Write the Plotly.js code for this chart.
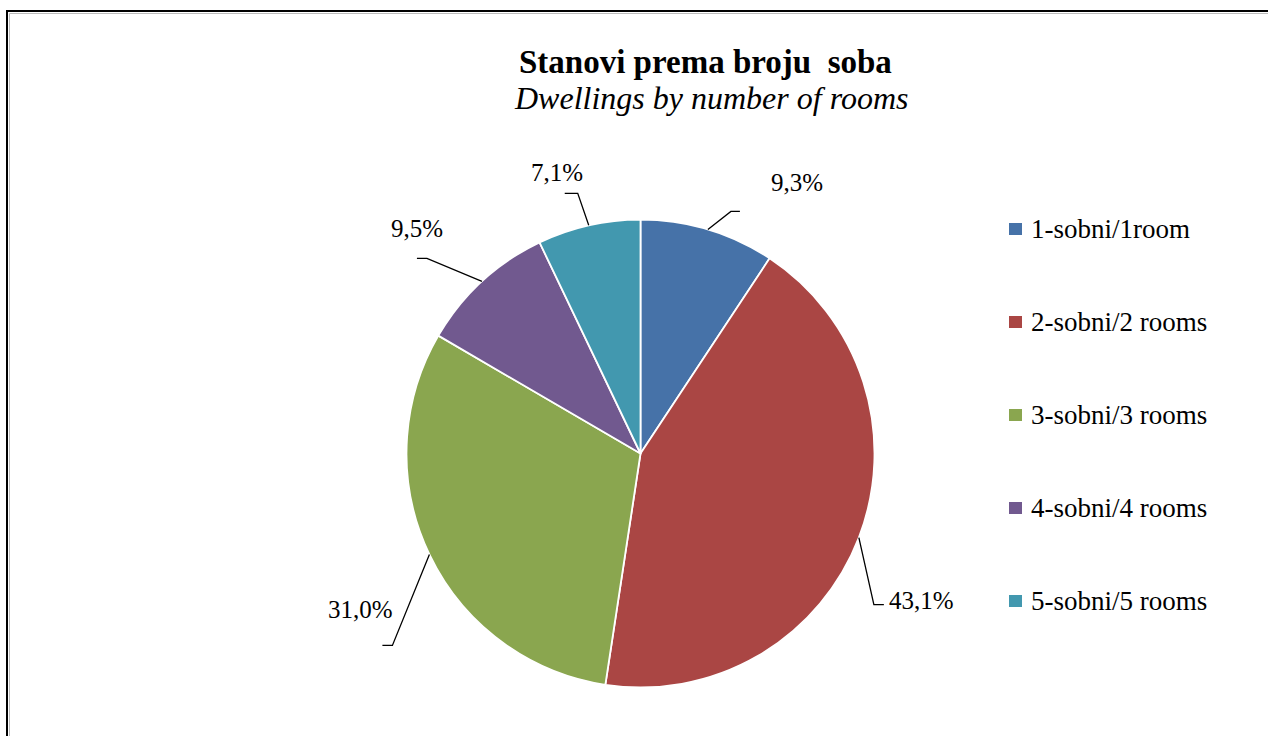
<!DOCTYPE html>
<html>
<head>
<meta charset="utf-8">
<script src="https://cdn.plot.ly/plotly-3.0.1.min.js"></script>
<style>html,body{margin:0;padding:0;background:#fff;}#chart{width:1268px;height:736px;}</style>
</head>
<body>
<div id="chart"></div>
<script>
// ---- data ----
const categories = ['1-sobni/1room', '2-sobni/2 rooms', '3-sobni/3 rooms', '4-sobni/4 rooms', '5-sobni/5 rooms'];
const shares = [9.3, 43.1, 31.0, 9.5, 7.1];
const colors = ['#4672A8', '#AA4644', '#8AA64F', '#71598F', '#4298AF'];
const titleMain = 'Stanovi prema broju&nbsp; soba';
const titleSub = 'Dwellings by number of rooms';

// ---- layout / styling (pixel geometry) ----
const W = 1268, H = 736;
const CX = 640.5, CY = 453.5, R = 234;
const FONT = 'Liberation Serif, Cambria, serif';
// leader line geometry relative to slice edge point: elbow offset, horizontal run, text offset from end
const leader = [
  {elbow: [23, -18], run: 9,   text: [57, -29]},
  {elbow: [15, 67],  run: 10,  text: [38, -4]},
  {elbow: [-37, 91], run: -10, text: [-22, -36]},
  {elbow: [-55, -23], run: -10, text: [0, -30]},
  {elbow: [-11, -32], run: -13, text: [-8, -21]}
];
const legendX = 1009, legendY0 = 229, legendStep = 93, boxW = 13, boxH = 12;

const px = x => x / W;
const py = y => 1 - y / H;

const shapes = [];
const annotations = [];

// frame
shapes.push({type: 'line', xref: 'paper', yref: 'paper', x0: px(7), x1: px(1268), y0: py(11), y1: py(11), line: {color: '#000', width: 2}});
shapes.push({type: 'line', xref: 'paper', yref: 'paper', x0: px(7), x1: px(7), y0: py(10), y1: py(736), line: {color: '#000', width: 2}});
shapes.push({type: 'line', xref: 'paper', yref: 'paper', x0: px(9.5), x1: px(1268), y0: py(13.5), y1: py(13.5), line: {color: '#bbb', width: 1}});
shapes.push({type: 'line', xref: 'paper', yref: 'paper', x0: px(9.5), x1: px(9.5), y0: py(13.5), y1: py(736), line: {color: '#bbb', width: 1}});

// titles
annotations.push({xref: 'paper', yref: 'paper', x: px(705), y: py(62), xanchor: 'center', yanchor: 'middle', showarrow: false,
  text: '<b>' + titleMain + '</b>', font: {family: FONT, size: 33, color: '#000'}});
annotations.push({xref: 'paper', yref: 'paper', x: px(711), y: py(98), xanchor: 'center', yanchor: 'middle', showarrow: false,
  text: '<i>' + titleSub + '</i>', font: {family: FONT, size: 32, color: '#000'}});

// data labels with leader lines, computed from slice mid-angles
const total = shares.reduce((a, b) => a + b, 0);
let cum = 0;
shares.forEach((v, i) => {
  const mid = (cum + v / 2) / total * 2 * Math.PI;
  cum += v;
  const sx = CX + R * Math.sin(mid), sy = CY - R * Math.cos(mid);
  const L = leader[i];
  const ex = sx + L.elbow[0], ey = sy + L.elbow[1];
  const fx = ex + L.run, fy = ey;
  shapes.push({type: 'path', xref: 'paper', yref: 'paper',
    path: `M ${px(sx)} ${py(sy)} L ${px(ex)} ${py(ey)} L ${px(fx)} ${py(fy)}`,
    line: {color: '#000', width: 1.3}});
  annotations.push({xref: 'paper', yref: 'paper', x: px(fx + L.text[0]), y: py(fy + L.text[1]),
    xanchor: 'center', yanchor: 'middle', showarrow: false,
    text: v.toFixed(1).replace('.', ',') + '%', font: {family: FONT, size: 25, color: '#000'}});
});

// legend
categories.forEach((c, i) => {
  const yc = legendY0 + i * legendStep;
  shapes.push({type: 'rect', xref: 'paper', yref: 'paper', x0: px(legendX), x1: px(legendX + boxW),
    y0: py(yc - boxH / 2), y1: py(yc + boxH / 2), fillcolor: colors[i], line: {width: 0}});
  annotations.push({xref: 'paper', yref: 'paper', x: px(legendX + 20), y: py(yc), xanchor: 'left', yanchor: 'middle',
    showarrow: false, text: c, font: {family: FONT, size: 27, color: '#000'}});
});

const trace = {
  type: 'pie',
  labels: categories,
  values: shares,
  sort: false,
  direction: 'clockwise',
  rotation: 0,
  textinfo: 'none',
  hoverinfo: 'label+percent',
  marker: {colors: colors, line: {color: '#fff', width: 1.8}},
  domain: {x: [px(CX - R), px(CX + R)], y: [py(CY + R), py(CY - R)]},
  showlegend: false
};

const layout = {
  width: W, height: H,
  margin: {l: 0, r: 0, t: 0, b: 0},
  paper_bgcolor: '#fff',
  plot_bgcolor: '#fff',
  showlegend: false,
  shapes: shapes,
  annotations: annotations
};

Plotly.newPlot('chart', [trace], layout, {displayModeBar: false, staticPlot: true});
</script>
</body>
</html>
